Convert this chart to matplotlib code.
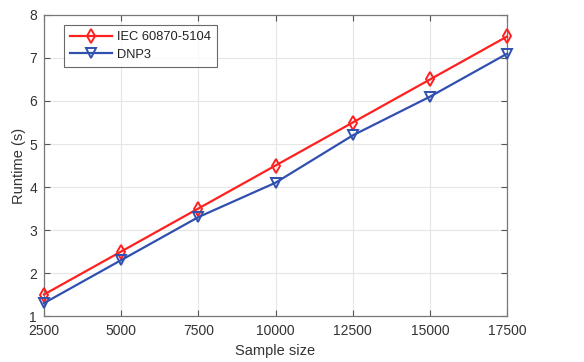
import matplotlib
matplotlib.use("Agg")
import matplotlib.pyplot as plt

sample_size = [2500, 5000, 7500, 10000, 12500, 15000, 17500]
iec_runtime = [1.5, 2.5, 3.5, 4.5, 5.5, 6.5, 7.5]
dnp3_runtime = [1.3, 2.3, 3.3, 4.1, 5.2, 6.1, 7.1]
x_ticks = [2500, 5000, 7500, 10000, 12500, 15000, 17500]
y_ticks = [1, 2, 3, 4, 5, 6, 7, 8]

plt.rcParams['font.family'] = ['Liberation Sans', 'DejaVu Sans']

fig = plt.figure(figsize=(5.84, 3.62), dpi=100)
ax = fig.add_axes([0.0753, 0.127, 0.793, 0.8316])

ax.plot(sample_size, iec_runtime, color='#ff2020', lw=1.6, marker='d', ms=7,
        mfc='none', mew=1.4, label='IEC 60870-5104', clip_on=False, zorder=3)
ax.plot(sample_size, dnp3_runtime, color='#3050b0', lw=1.6, marker='v', ms=7.5,
        mfc='none', mew=1.4, label='DNP3', clip_on=False, zorder=3)

ax.set_xlim(2500, 17500)
ax.set_ylim(1, 8)
ax.set_xticks(x_ticks)
ax.set_yticks(y_ticks)
ax.grid(True, color='#e6e6e6', lw=0.8)
ax.set_axisbelow(True)
ax.tick_params(direction='in', top=True, right=True, length=4, width=0.8,
               colors='#555555', labelsize=10, labelcolor='#333333')
ax.tick_params(axis='x', pad=6)
ax.tick_params(axis='y', pad=5)
for s in ax.spines.values():
    s.set_color('#777777')
    s.set_linewidth(0.9)

ax.set_xlabel('Sample size', fontsize=10.5, color='#333333', labelpad=4)
ax.set_ylabel('Runtime (s)', fontsize=10.5, color='#333333', labelpad=2)

leg = ax.legend(loc='upper left', bbox_to_anchor=(0.043, 0.967), fontsize=9.3,
                frameon=True, fancybox=False, edgecolor='#444444',
                borderpad=0.5, handlelength=3.2, labelspacing=0.4,
                handletextpad=0.4, borderaxespad=0)
leg.get_frame().set_linewidth(0.8)
for t in leg.get_texts():
    t.set_color('#222222')

fig.savefig('out.png', dpi=100)
